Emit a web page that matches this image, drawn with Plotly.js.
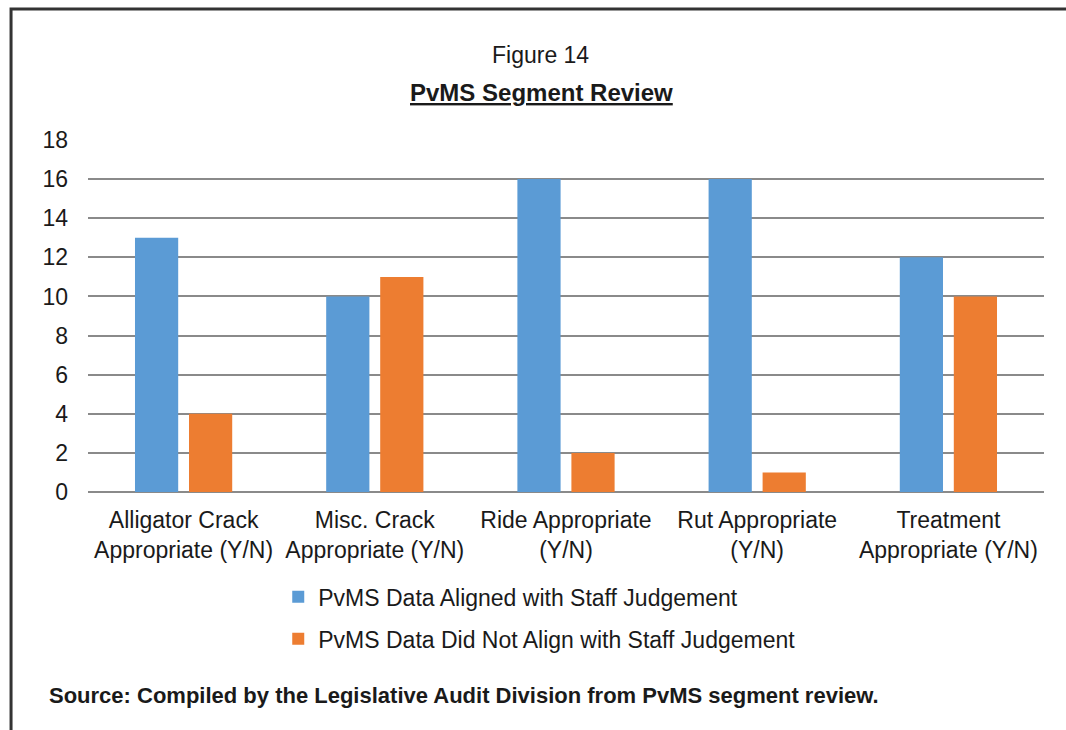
<!DOCTYPE html>
<html>
<head>
<meta charset="utf-8">
<script src="https://cdn.plot.ly/plotly-3.0.1.min.js"></script>
<style>
html,body{margin:0;padding:0;background:#fff;}
#chart{width:1066px;height:730px;}
</style>
</head>
<body>
<div id="chart"></div>
<script>
var categories = [
  "Alligator Crack<br>Appropriate (Y/N)",
  "Misc. Crack<br>Appropriate (Y/N)",
  "Ride Appropriate<br>(Y/N)",
  "Rut Appropriate<br>(Y/N)",
  "Treatment<br>Appropriate (Y/N)"
];
var alignedValues = [13, 10, 16, 16, 12];
var notAlignedValues = [4, 11, 2, 1, 10];
var seriesNames = [
  "PvMS Data Aligned with Staff Judgement",
  "PvMS Data Did Not Align with Staff Judgement"
];
var yTicks = [0, 2, 4, 6, 8, 10, 12, 14, 16, 18];

var baseFont = 'Arial, "Liberation Sans", sans-serif';
var narrowFont = '"Liberation Sans Narrow", "Arial Narrow", Arial, "Liberation Sans", sans-serif';

var traces = [
  {type: 'bar', x: categories, y: alignedValues, name: seriesNames[0],
   legendgroup: 'a', marker: {color: '#5B9BD5'}, hoverinfo: 'y'},
  {type: 'bar', x: categories, y: notAlignedValues, name: seriesNames[1],
   legendgroup: 'b', marker: {color: '#ED7D31'}, hoverinfo: 'y'}
];

var layout = {
  width: 1066, height: 730,
  margin: {l: 88, r: 22, t: 140, b: 238},
  paper_bgcolor: '#fff', plot_bgcolor: '#fff',
  font: {family: baseFont, size: 23, color: '#1a1a1a'},
  barmode: 'group', bargap: 0.435, bargroupgap: 0.2,
  showlegend: true,
  legend: {x: 0.199, y: -0.237, xanchor: 'left', yanchor: 'top',
           orientation: 'v', font: {size: 23, family: baseFont},
           tracegroupgap: 9, itemwidth: 30, bgcolor: 'rgba(0,0,0,0)'},
  xaxis: {type: 'category', showgrid: false, zeroline: false, showline: false,
          ticks: '', tickfont: {size: 23, family: baseFont}, ticklabelstandoff: 12,
          fixedrange: true},
  yaxis: {range: [0, 18], tickvals: yTicks, ticktext: yTicks.map(String),
          showgrid: true, gridcolor: '#8a8a8a', gridwidth: 2,
          zeroline: true, zerolinecolor: '#8a8a8a', zerolinewidth: 2,
          showline: false, ticks: '', ticklabelstandoff: 19,
          tickfont: {size: 23, family: baseFont}, fixedrange: true},
  annotations: [
    {text: 'Figure 14', xref: 'paper', yref: 'paper', x: 0.473, y: 1.241,
     xanchor: 'center', yanchor: 'middle', showarrow: false,
     font: {family: narrowFont, size: 23, color: '#1a1a1a'}},
    {text: '<b><u>PvMS Segment Review</u></b>', xref: 'paper', yref: 'paper', x: 0.474, y: 1.134,
     xanchor: 'center', yanchor: 'middle', showarrow: false,
     font: {family: narrowFont, size: 24, color: '#1a1a1a'}},
    {text: '<b>Source: Compiled by the Legislative Audit Division from PvMS segment review.</b>',
     xref: 'paper', yref: 'paper', x: -0.0429, y: -0.577,
     xanchor: 'left', yanchor: 'middle', showarrow: false,
     font: {family: narrowFont, size: 22, color: '#1a1a1a'}}
  ],
  shapes: [
    {type: 'rect', xref: 'paper', yref: 'paper', x0: -0.0805, x1: 1.2, y0: -1.0, y1: 1.372,
     line: {color: '#333333', width: 3}, fillcolor: 'rgba(0,0,0,0)', layer: 'below'}
  ]
};

Plotly.newPlot('chart', traces, layout, {displayModeBar: false, staticPlot: true});
</script>
</body>
</html>
